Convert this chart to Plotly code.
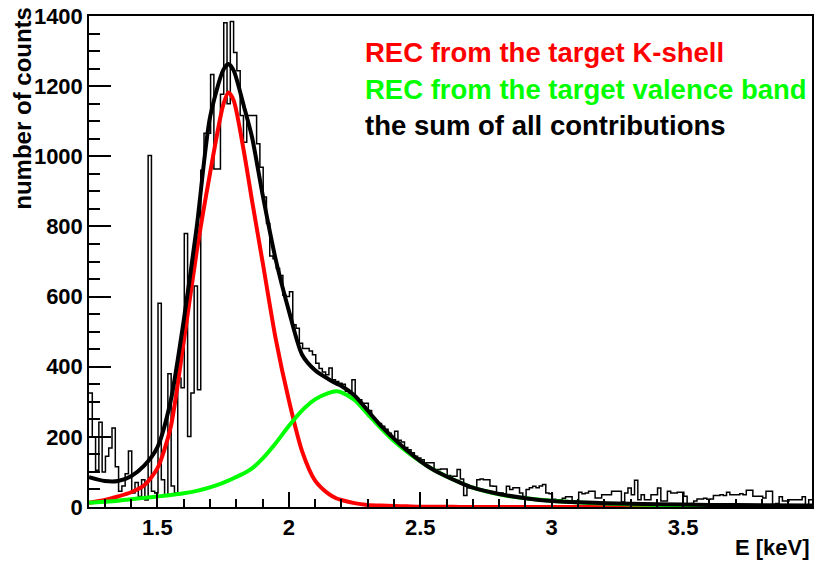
import numpy as np
import plotly.graph_objects as go

# ---------------- data ----------------
bin_start = 1.24      # keV, lower edge of first bin
bin_width = 0.0125    # keV

counts = [
    # 1.24 - 1.665
    325, 200, 105, 242, 100, 145, 168, 225, 115, 45, 60, 95, 160, 40, 70, 30, 78, 20,
    1002, 45, 40, 581, 78, 35, 380, 60, 40, 367, 340, 780, 201, 325, 630, 334,
    # peak
    960, 1066, 1066, 1233, 964, 964, 1177, 1381, 1150, 1384, 1296, 1244, 1116, 1040,
    1116, 1116, 1116, 1036, 969, 884, 808,
    # falling edge
    716, 708, 680, 660, 604, 600, 614, 520, 510, 467, 452, 452, 445, 434, 410, 395,
    385, 377, 396, 363, 358, 353, 350, 330, 325, 363, 310,
    # tail
    306, 296, 296, 275, 250, 244, 238, 230, 222, 210, 200, 216, 190, 185, 170, 163,
    155, 145, 140, 135, 126, 126, 126, 107, 107, 108, 108, 90, 88, 88, 107, 80, 33,
    55, 55, 55, 78, 80, 78, 78, 60, 59, 38, 40, 38, 59, 50, 55, 55, 40, 30, 50, 55,
    59, 55, 60, 64, 40,
    # flat region
    38, 22, 21, 21, 25, 29, 29, 17, 17, 42,
    38, 40, 45, 45, 26, 26, 35, 35, 35, 45,
    45, 45, 14, 40, 54, 35, 76, 21, 35, 21,
    21, 35, 35, 54, 17, 17, 45, 40, 40, 42,
    42, 31, 7, 10, 17, 23, 23, 25, 22, 23,
    33, 33, 35, 33, 42, 35, 35, 35, 38, 35,
    48, 48, 31, 31, 31, 26, 45, 45, 7, 10,
    29, 17, 17, 21, 21, 21, 21, 29, 4, 21,
]

curve_x = [1.24, 1.30, 1.35, 1.40, 1.45, 1.50, 1.55, 1.60, 1.65, 1.70, 1.75, 1.77,
           1.79, 1.83, 1.86, 1.90, 1.95, 2.00, 2.05, 2.10, 2.15, 2.18, 2.20, 2.25,
           2.30, 2.35, 2.40, 2.45, 2.50, 2.55, 2.60, 2.65, 2.70, 2.80, 2.90, 3.00,
           3.20, 3.40, 3.60, 3.80, 3.99]

kshell = [12, 20, 30, 42, 62, 110, 225, 470, 730, 950, 1145, 1182,
          1160, 1010, 874, 700, 480, 305, 160, 75, 38, 25, 20, 11,
          6, 4, 3, 2, 1, 1, 0.5, 0.3, 0.2, 0.1, 0, 0,
          0, 0, 0, 0, 0]

valence = [12, 15, 18, 22, 26, 30, 34, 39, 46, 56, 69, 75,
           82, 96, 110, 138, 182, 231, 275, 307, 325, 330, 327, 305,
           265, 225, 188, 157, 130, 106, 87, 70, 55, 36, 25, 18,
           10, 6, 4, 3, 2]

total = [85, 74, 74, 88, 118, 170, 300, 530, 800, 1110, 1245, 1263,
         1245, 1140, 1055, 892, 706, 560, 435, 390, 365, 352, 345, 318,
         275, 232, 195, 161, 131, 106, 87, 70, 55, 37, 25, 17,
         11, 8, 6, 5, 4]

legend_texts = ["REC from the target K-shell",
                "REC from the target valence band",
                "the sum of all contributions"]
legend_colors = ["#ff0000", "#00ff00", "#000000"]

# ---------------- figure ----------------
edges = bin_start + bin_width * np.arange(len(counts) + 1)
hist_y = list(counts) + [counts[-1]]

FONT = "Liberation Sans, Arial, Helvetica, sans-serif"

fig = go.Figure()
fig.add_trace(go.Scatter(x=edges, y=hist_y, mode="lines",
                         line=dict(shape="hv", color="black", width=1.5),
                         hoverinfo="skip"))
fig.add_trace(go.Scatter(x=curve_x, y=kshell, mode="lines",
                         line=dict(shape="spline", smoothing=0.7, color="#ff0000", width=4)))
fig.add_trace(go.Scatter(x=curve_x, y=valence, mode="lines",
                         line=dict(shape="spline", smoothing=0.8, color="#00ff00", width=4)))
fig.add_trace(go.Scatter(x=curve_x, y=total, mode="lines",
                         line=dict(shape="spline", smoothing=0.7, color="#000000", width=4)))

W, H = 818, 562
ml, mr, mt, mb = 89, 4, 15, 55
pw, ph = W - ml - mr, H - mt - mb


def px_to_paper(xp, yp):
    return (xp - ml) / pw, (H - mb - yp) / ph


annotations = []
for i, (t, c) in enumerate(zip(legend_texts, legend_colors)):
    xx, yy = px_to_paper(364, 52 + 36.5 * i)
    annotations.append(dict(text="<b>%s</b>" % t, x=xx, y=yy, xref="paper", yref="paper",
                            xanchor="left", yanchor="middle", showarrow=False,
                            font=dict(family=FONT, size=27.5, color=c)))

xx, yy = px_to_paper(815, 548)
annotations.append(dict(text="<b>E [keV]</b>", x=1.0, y=yy, xref="paper", yref="paper",
                        xanchor="right", yanchor="middle", showarrow=False,
                        font=dict(family=FONT, size=22, color="black")))
xx, yy = px_to_paper(22, 4)
annotations.append(dict(text="<b>number of counts</b>", x=xx, y=yy, xref="paper", yref="paper",
                        xanchor="center", yanchor="top", textangle=-90, showarrow=False,
                        font=dict(family=FONT, size=24, color="black")))

fig.update_layout(
    width=W, height=H,
    margin=dict(l=ml, r=mr, t=mt, b=mb, pad=0),
    paper_bgcolor="white", plot_bgcolor="white",
    showlegend=False,
    annotations=annotations,
    xaxis=dict(range=[1.24, 3.99], tickmode="linear", tick0=0, dtick=0.5,
               ticks="inside", ticklen=15, tickwidth=1.5, tickcolor="black",
               minor=dict(dtick=0.1, tick0=0, ticks="inside", ticklen=8, tickwidth=1.5,
                          tickcolor="black", showgrid=False),
               showgrid=False, zeroline=False, showline=True, linecolor="black",
               linewidth=1.5, mirror=True,
               tickfont=dict(family=FONT, size=22, color="black", weight="bold")),
    yaxis=dict(range=[0, 1400], tickmode="linear", tick0=0, dtick=200,
               ticks="inside", ticklen=22, tickwidth=1.5, tickcolor="black",
               minor=dict(dtick=50, tick0=0, ticks="inside", ticklen=11, tickwidth=1.5,
                          tickcolor="black", showgrid=False),
               showgrid=False, zeroline=False, showline=True, linecolor="black",
               linewidth=1.5, mirror=True,
               tickfont=dict(family=FONT, size=22, color="black", weight="bold")),
)

fig.write_html("out.html")
